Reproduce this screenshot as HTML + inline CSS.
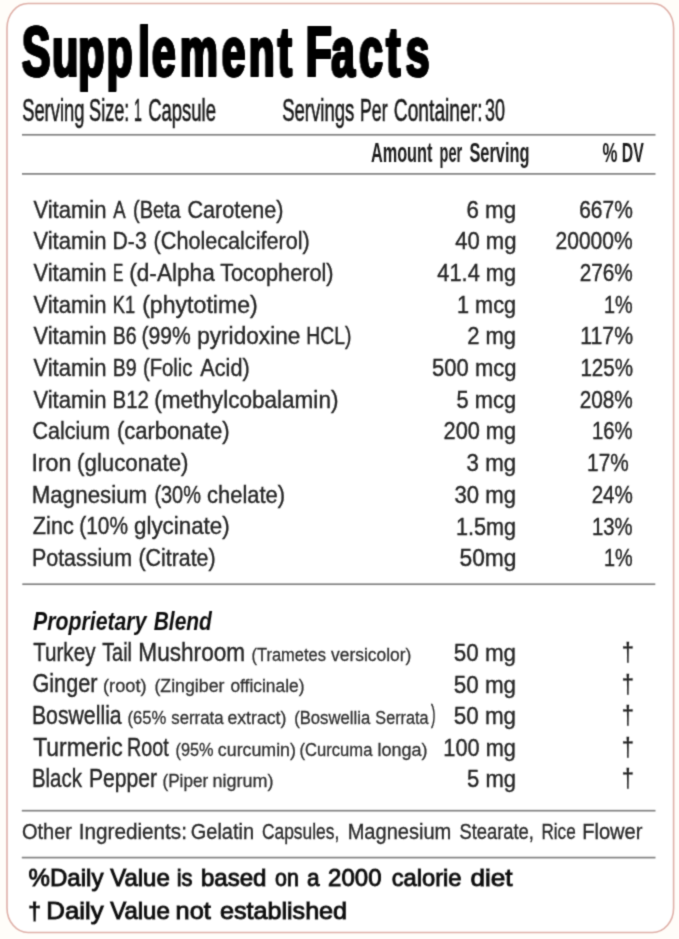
<!DOCTYPE html>
<html lang="en"><head><meta charset="utf-8"><title>Supplement Facts</title>
<style>
html,body{margin:0;padding:0;background:#fffdf9;}
body{width:679px;height:939px;overflow:hidden;}
svg{display:block;}
text{font-family:"Liberation Sans",sans-serif;fill:#262626;stroke:#262626;stroke-width:0.4px;}
.sm{fill:#2e2e2e;stroke:#2e2e2e;stroke-width:0.3px;}
.ot{fill:#2a2a2a;stroke:#2a2a2a;stroke-width:0.35px;}
.title{font-weight:bold;fill:#000;stroke:#000;stroke-width:2.2px;paint-order:stroke;stroke-linejoin:round;filter:drop-shadow(0.5px 0 0 #000) drop-shadow(-0.5px 0 0 #000);}
.hd{fill:#1a1a1a;stroke:#1a1a1a;stroke-width:0.6px;}
.hb{font-weight:bold;fill:#1a1a1a;stroke:none;}
.bi{font-weight:bold;font-style:italic;fill:#111;stroke:none;}
.sb{fill:#111;stroke:#111;stroke-width:0.9px;}
.dg{fill:#222;stroke:#222;stroke-width:0.3px;}
</style></head><body>
<svg width="679" height="939" viewBox="0 0 679 939">
<rect x="0" y="0" width="679" height="939" fill="#fffdf9"/>
<defs><filter id="soft" x="0" y="0" width="679" height="939" filterUnits="userSpaceOnUse"><feConvolveMatrix order="3" kernelMatrix="0.0277 0.1110 0.0277 0.1110 0.4452 0.1110 0.0277 0.1110 0.0277" divisor="1" edgeMode="duplicate" preserveAlpha="false"/></filter></defs>
<rect x="7" y="3.5" width="666.6" height="929" rx="21" ry="24.5" fill="#ffffff"/>
<rect x="7" y="3.5" width="666.6" height="929" rx="21" ry="24.5" fill="none" stroke="#dfb0a8" stroke-width="1.6" filter="url(#soft)"/>
<g filter="url(#soft)">
<rect x="22" y="133.95" width="633.5" height="1.7" fill="#828282"/>
<rect x="22" y="173.05" width="633.5" height="1.7" fill="#828282"/>
<rect x="22.3" y="583.35" width="633.0" height="1.7" fill="#828282"/>
<rect x="21.8" y="809.85" width="633.7" height="1.7" fill="#828282"/>
<rect x="21.8" y="856.75" width="633.7" height="1.7" fill="#828282"/>
<text class="title" transform="scale(0.6054,1)" x="36.79 86.80 129.56 176.55 228.58 251.37 297.71 366.58 411.40 459.14 493.28 505.28 547.65 593.87 638.26 670.60" y="76" font-size="70.5">Supplement Facts</text>
<text><tspan class="hd" x="22.16" y="121.30" font-size="32.2" textLength="62.24" lengthAdjust="spacingAndGlyphs">Serving</tspan> <tspan class="hd" x="89.10" y="121.30" font-size="32.2" textLength="40.25" lengthAdjust="spacingAndGlyphs">Size:</tspan> <tspan class="hd" x="134.12" y="121.30" font-size="32.2" textLength="7.86" lengthAdjust="spacingAndGlyphs">1</tspan> <tspan class="hd" x="148.14" y="121.30" font-size="32.2" textLength="67.85" lengthAdjust="spacingAndGlyphs">Capsule</tspan> <tspan class="hd" x="282.15" y="121.30" font-size="32.2" textLength="72.27" lengthAdjust="spacingAndGlyphs">Servings</tspan> <tspan class="hd" x="360.07" y="121.30" font-size="32.2" textLength="27.45" lengthAdjust="spacingAndGlyphs">Per</tspan> <tspan class="hd" x="393.75" y="121.30" font-size="32.2" textLength="88.75" lengthAdjust="spacingAndGlyphs">Container:</tspan> <tspan class="hd" x="484.92" y="121.30" font-size="32.2" textLength="19.97" lengthAdjust="spacingAndGlyphs">30</tspan></text>
<text><tspan class="hb" x="370.92" y="162.00" font-size="27.5" textLength="61.55" lengthAdjust="spacingAndGlyphs">Amount</tspan> <tspan class="hb" x="439.56" y="162.00" font-size="27.5" textLength="22.51" lengthAdjust="spacingAndGlyphs">per</tspan> <tspan class="hb" x="469.46" y="162.00" font-size="27.5" textLength="60.05" lengthAdjust="spacingAndGlyphs">Serving</tspan> <tspan class="hb" x="602.39" y="162.00" font-size="27.5" textLength="14.90" lengthAdjust="spacingAndGlyphs">%</tspan> <tspan class="hb" x="621.69" y="162.00" font-size="27.5" textLength="22.02" lengthAdjust="spacingAndGlyphs">DV</tspan></text>
<text><tspan x="33.38" y="217.50" font-size="24.6" textLength="73.13" lengthAdjust="spacingAndGlyphs">Vitamin</tspan> <tspan x="113.37" y="217.50" font-size="24.6" textLength="12.39" lengthAdjust="spacingAndGlyphs">A</tspan> <tspan x="132.99" y="217.50" font-size="24.6" textLength="47.74" lengthAdjust="spacingAndGlyphs">(Beta</tspan> <tspan x="187.47" y="217.50" font-size="24.6" textLength="95.98" lengthAdjust="spacingAndGlyphs">Carotene)</tspan> <tspan x="466.41" y="217.70" font-size="23.8" textLength="49.65" lengthAdjust="spacingAndGlyphs">6 mg</tspan> <tspan x="579.18" y="217.70" font-size="23.8" textLength="53.59" lengthAdjust="spacingAndGlyphs">667%</tspan></text>
<text><tspan x="33.38" y="249.18" font-size="24.6" textLength="73.13" lengthAdjust="spacingAndGlyphs">Vitamin</tspan> <tspan x="112.62" y="249.18" font-size="24.6" textLength="34.06" lengthAdjust="spacingAndGlyphs">D-3</tspan> <tspan x="153.62" y="249.18" font-size="24.6" textLength="156.06" lengthAdjust="spacingAndGlyphs">(Cholecalciferol)</tspan> <tspan x="455.14" y="249.38" font-size="23.8" textLength="61.38" lengthAdjust="spacingAndGlyphs">40 mg</tspan> <tspan x="555.61" y="249.38" font-size="23.8" textLength="77.00" lengthAdjust="spacingAndGlyphs">20000%</tspan></text>
<text><tspan x="33.38" y="280.86" font-size="24.6" textLength="73.13" lengthAdjust="spacingAndGlyphs">Vitamin</tspan> <tspan x="112.97" y="280.86" font-size="24.6" textLength="10.31" lengthAdjust="spacingAndGlyphs">E</tspan> <tspan x="129.23" y="280.86" font-size="24.6" textLength="85.55" lengthAdjust="spacingAndGlyphs">(d-Alpha</tspan> <tspan x="220.17" y="280.86" font-size="24.6" textLength="113.43" lengthAdjust="spacingAndGlyphs">Tocopherol)</tspan> <tspan x="437.36" y="281.06" font-size="23.8" textLength="78.72" lengthAdjust="spacingAndGlyphs">41.4 mg</tspan> <tspan x="579.63" y="281.06" font-size="23.8" textLength="53.14" lengthAdjust="spacingAndGlyphs">276%</tspan></text>
<text><tspan x="33.38" y="312.54" font-size="24.6" textLength="73.13" lengthAdjust="spacingAndGlyphs">Vitamin</tspan> <tspan x="112.70" y="312.54" font-size="24.6" textLength="22.40" lengthAdjust="spacingAndGlyphs">K1</tspan> <tspan x="142.18" y="312.54" font-size="24.6" textLength="115.56" lengthAdjust="spacingAndGlyphs">(phytotime)</tspan> <tspan x="456.96" y="312.74" font-size="23.8" textLength="59.13" lengthAdjust="spacingAndGlyphs">1 mcg</tspan> <tspan x="604.07" y="312.74" font-size="23.8" textLength="28.71" lengthAdjust="spacingAndGlyphs">1%</tspan></text>
<text><tspan x="33.38" y="344.22" font-size="24.6" textLength="73.13" lengthAdjust="spacingAndGlyphs">Vitamin</tspan> <tspan x="112.69" y="344.22" font-size="24.6" textLength="23.88" lengthAdjust="spacingAndGlyphs">B6</tspan> <tspan x="141.51" y="344.22" font-size="24.6" textLength="49.22" lengthAdjust="spacingAndGlyphs">(99%</tspan> <tspan x="197.19" y="344.22" font-size="24.6" textLength="103.15" lengthAdjust="spacingAndGlyphs">pyridoxine</tspan> <tspan x="306.33" y="344.22" font-size="24.6" textLength="45.08" lengthAdjust="spacingAndGlyphs">HCL)</tspan> <tspan x="467.15" y="344.42" font-size="23.8" textLength="48.97" lengthAdjust="spacingAndGlyphs">2 mg</tspan> <tspan x="580.34" y="344.42" font-size="23.8" textLength="52.67" lengthAdjust="spacingAndGlyphs">117%</tspan></text>
<text><tspan x="33.38" y="375.90" font-size="24.6" textLength="73.13" lengthAdjust="spacingAndGlyphs">Vitamin</tspan> <tspan x="112.67" y="375.90" font-size="24.6" textLength="23.99" lengthAdjust="spacingAndGlyphs">B9</tspan> <tspan x="142.95" y="375.90" font-size="24.6" textLength="49.53" lengthAdjust="spacingAndGlyphs">(Folic</tspan> <tspan x="200.35" y="375.90" font-size="24.6" textLength="49.29" lengthAdjust="spacingAndGlyphs">Acid)</tspan> <tspan x="432.12" y="376.10" font-size="23.8" textLength="84.34" lengthAdjust="spacingAndGlyphs">500 mcg</tspan> <tspan x="580.41" y="376.10" font-size="23.8" textLength="52.64" lengthAdjust="spacingAndGlyphs">125%</tspan></text>
<text><tspan x="33.38" y="407.58" font-size="24.6" textLength="73.13" lengthAdjust="spacingAndGlyphs">Vitamin</tspan> <tspan x="112.56" y="407.58" font-size="24.6" textLength="36.35" lengthAdjust="spacingAndGlyphs">B12</tspan> <tspan x="154.23" y="407.58" font-size="24.6" textLength="184.21" lengthAdjust="spacingAndGlyphs">(methylcobalamin)</tspan> <tspan x="456.62" y="407.78" font-size="23.8" textLength="59.46" lengthAdjust="spacingAndGlyphs">5 mcg</tspan> <tspan x="579.63" y="407.78" font-size="23.8" textLength="53.14" lengthAdjust="spacingAndGlyphs">208%</tspan></text>
<text><tspan x="32.48" y="439.26" font-size="24.6" textLength="77.56" lengthAdjust="spacingAndGlyphs">Calcium</tspan> <tspan x="116.90" y="439.26" font-size="24.6" textLength="112.70" lengthAdjust="spacingAndGlyphs">(carbonate)</tspan> <tspan x="443.55" y="439.46" font-size="23.8" textLength="72.54" lengthAdjust="spacingAndGlyphs">200 mg</tspan> <tspan x="592.02" y="439.46" font-size="23.8" textLength="40.58" lengthAdjust="spacingAndGlyphs">16%</tspan></text>
<text><tspan x="31.40" y="470.94" font-size="24.6" textLength="40.07" lengthAdjust="spacingAndGlyphs">Iron</tspan> <tspan x="77.11" y="470.94" font-size="24.6" textLength="111.34" lengthAdjust="spacingAndGlyphs">(gluconate)</tspan> <tspan x="466.58" y="471.14" font-size="23.8" textLength="49.51" lengthAdjust="spacingAndGlyphs">3 mg</tspan> <tspan x="587.11" y="471.14" font-size="23.8" textLength="41.56" lengthAdjust="spacingAndGlyphs">17%</tspan></text>
<text><tspan x="31.77" y="502.62" font-size="24.6" textLength="115.43" lengthAdjust="spacingAndGlyphs">Magnesium</tspan> <tspan x="154.39" y="502.62" font-size="24.6" textLength="46.56" lengthAdjust="spacingAndGlyphs">(30%</tspan> <tspan x="207.01" y="502.62" font-size="24.6" textLength="78.08" lengthAdjust="spacingAndGlyphs">chelate)</tspan> <tspan x="454.59" y="502.82" font-size="23.8" textLength="61.43" lengthAdjust="spacingAndGlyphs">30 mg</tspan> <tspan x="591.64" y="502.82" font-size="23.8" textLength="41.20" lengthAdjust="spacingAndGlyphs">24%</tspan></text>
<text><tspan x="32.86" y="534.30" font-size="24.6" textLength="40.88" lengthAdjust="spacingAndGlyphs">Zinc</tspan> <tspan x="79.25" y="534.30" font-size="24.6" textLength="48.70" lengthAdjust="spacingAndGlyphs">(10%</tspan> <tspan x="134.01" y="534.30" font-size="24.6" textLength="95.65" lengthAdjust="spacingAndGlyphs">glycinate)</tspan> <tspan x="455.97" y="534.50" font-size="23.8" textLength="60.15" lengthAdjust="spacingAndGlyphs">1.5mg</tspan> <tspan x="592.02" y="534.50" font-size="23.8" textLength="40.58" lengthAdjust="spacingAndGlyphs">13%</tspan></text>
<text><tspan x="31.92" y="565.98" font-size="24.6" textLength="100.13" lengthAdjust="spacingAndGlyphs">Potassium</tspan> <tspan x="138.50" y="565.98" font-size="24.6" textLength="77.08" lengthAdjust="spacingAndGlyphs">(Citrate)</tspan> <tspan x="459.54" y="566.18" font-size="23.8" textLength="56.98" lengthAdjust="spacingAndGlyphs">50mg</tspan> <tspan x="604.07" y="566.18" font-size="23.8" textLength="28.71" lengthAdjust="spacingAndGlyphs">1%</tspan></text>
<text><tspan class="bi" x="33.02" y="629.50" font-size="25" textLength="113.46" lengthAdjust="spacingAndGlyphs">Proprietary</tspan> <tspan class="bi" x="153.69" y="629.50" font-size="25" textLength="58.18" lengthAdjust="spacingAndGlyphs">Blend</tspan></text>
<text><tspan x="33.19" y="660.80" font-size="25.4" textLength="62.26" lengthAdjust="spacingAndGlyphs">Turkey</tspan> <tspan x="102.22" y="660.80" font-size="25.4" textLength="29.72" lengthAdjust="spacingAndGlyphs">Tail</tspan> <tspan x="138.32" y="660.80" font-size="25.4" textLength="106.80" lengthAdjust="spacingAndGlyphs">Mushroom</tspan> <tspan class="sm" x="251.53" y="660.80" font-size="18.8" textLength="74.36" lengthAdjust="spacingAndGlyphs">(Trametes</tspan> <tspan class="sm" x="330.96" y="660.80" font-size="18.8" textLength="80.46" lengthAdjust="spacingAndGlyphs">versicolor)</tspan> <tspan x="453.81" y="661.00" font-size="24.799999999999997" textLength="62.28" lengthAdjust="spacingAndGlyphs">50 mg</tspan> <tspan class="dg" x="621.80" y="661.00" font-size="25.3" textLength="12.27" lengthAdjust="spacingAndGlyphs">†</tspan></text>
<text><tspan x="32.47" y="692.40" font-size="25.4" textLength="64.97" lengthAdjust="spacingAndGlyphs">Ginger</tspan> <tspan class="sm" x="103.00" y="692.40" font-size="18.8" textLength="43.53" lengthAdjust="spacingAndGlyphs">(root)</tspan> <tspan class="sm" x="154.39" y="692.40" font-size="18.8" textLength="70.05" lengthAdjust="spacingAndGlyphs">(Zingiber</tspan> <tspan class="sm" x="230.44" y="692.40" font-size="18.8" textLength="74.03" lengthAdjust="spacingAndGlyphs">officinale)</tspan> <tspan x="453.81" y="692.60" font-size="24.799999999999997" textLength="62.28" lengthAdjust="spacingAndGlyphs">50 mg</tspan> <tspan class="dg" x="621.80" y="692.60" font-size="25.3" textLength="12.27" lengthAdjust="spacingAndGlyphs">†</tspan></text>
<text><tspan x="31.93" y="724.00" font-size="25.4" textLength="89.75" lengthAdjust="spacingAndGlyphs">Boswellia</tspan> <tspan class="sm" x="127.52" y="724.00" font-size="18.8" textLength="38.80" lengthAdjust="spacingAndGlyphs">(65%</tspan> <tspan class="sm" x="171.37" y="724.00" font-size="18.8" textLength="52.08" lengthAdjust="spacingAndGlyphs">serrata</tspan> <tspan class="sm" x="227.40" y="724.00" font-size="18.8" textLength="59.06" lengthAdjust="spacingAndGlyphs">extract)</tspan> <tspan class="sm" x="294.14" y="724.00" font-size="18.8" textLength="76.09" lengthAdjust="spacingAndGlyphs">(Boswellia</tspan> <tspan class="sm" x="375.33" y="724.00" font-size="18.8" textLength="53.20" lengthAdjust="spacingAndGlyphs">Serrata</tspan><tspan x="431.00" y="722.70" font-size="25.4" textLength="4.51" lengthAdjust="spacingAndGlyphs">)</tspan> <tspan x="453.81" y="724.20" font-size="24.799999999999997" textLength="62.28" lengthAdjust="spacingAndGlyphs">50 mg</tspan> <tspan class="dg" x="621.80" y="724.20" font-size="25.3" textLength="12.27" lengthAdjust="spacingAndGlyphs">†</tspan></text>
<text><tspan x="33.13" y="755.60" font-size="25.4" textLength="89.52" lengthAdjust="spacingAndGlyphs">Turmeric</tspan> <tspan x="127.00" y="755.60" font-size="25.4" textLength="41.73" lengthAdjust="spacingAndGlyphs">Root</tspan> <tspan class="sm" x="175.52" y="755.60" font-size="18.8" textLength="38.04" lengthAdjust="spacingAndGlyphs">(95%</tspan> <tspan class="sm" x="217.86" y="755.60" font-size="18.8" textLength="78.04" lengthAdjust="spacingAndGlyphs">curcumin)</tspan> <tspan class="sm" x="299.53" y="755.60" font-size="18.8" textLength="72.89" lengthAdjust="spacingAndGlyphs">(Curcuma</tspan> <tspan class="sm" x="377.44" y="755.60" font-size="18.8" textLength="50.01" lengthAdjust="spacingAndGlyphs">longa)</tspan> <tspan x="443.36" y="755.80" font-size="24.799999999999997" textLength="72.55" lengthAdjust="spacingAndGlyphs">100 mg</tspan> <tspan class="dg" x="621.80" y="755.80" font-size="25.3" textLength="12.27" lengthAdjust="spacingAndGlyphs">†</tspan></text>
<text><tspan x="31.88" y="787.20" font-size="25.4" textLength="50.04" lengthAdjust="spacingAndGlyphs">Black</tspan> <tspan x="88.95" y="787.20" font-size="25.4" textLength="68.09" lengthAdjust="spacingAndGlyphs">Pepper</tspan> <tspan class="sm" x="162.44" y="787.20" font-size="18.8" textLength="45.77" lengthAdjust="spacingAndGlyphs">(Piper</tspan> <tspan class="sm" x="212.43" y="787.20" font-size="18.8" textLength="61.00" lengthAdjust="spacingAndGlyphs">nigrum)</tspan> <tspan x="467.11" y="787.40" font-size="24.799999999999997" textLength="48.99" lengthAdjust="spacingAndGlyphs">5 mg</tspan> <tspan class="dg" x="621.80" y="787.40" font-size="25.3" textLength="12.27" lengthAdjust="spacingAndGlyphs">†</tspan></text>
<text><tspan class="ot" x="21.99" y="839.30" font-size="22.3" textLength="50.01" lengthAdjust="spacingAndGlyphs">Other</tspan> <tspan class="ot" x="78.68" y="839.30" font-size="22.3" textLength="108.29" lengthAdjust="spacingAndGlyphs">Ingredients:</tspan> <tspan class="ot" x="190.77" y="839.30" font-size="22.3" textLength="63.26" lengthAdjust="spacingAndGlyphs">Gelatin</tspan> <tspan class="ot" x="262.01" y="839.30" font-size="22.3" textLength="77.24" lengthAdjust="spacingAndGlyphs">Capsules,</tspan> <tspan class="ot" x="347.68" y="839.30" font-size="22.3" textLength="103.62" lengthAdjust="spacingAndGlyphs">Magnesium</tspan> <tspan class="ot" x="459.38" y="839.30" font-size="22.3" textLength="74.53" lengthAdjust="spacingAndGlyphs">Stearate,</tspan> <tspan class="ot" x="541.46" y="839.30" font-size="22.3" textLength="34.25" lengthAdjust="spacingAndGlyphs">Rice</tspan> <tspan class="ot" x="582.15" y="839.30" font-size="22.3" textLength="60.30" lengthAdjust="spacingAndGlyphs">Flower</tspan></text>
<text><tspan class="sb" x="28.61" y="886.20" font-size="24.3" textLength="74.84" lengthAdjust="spacingAndGlyphs">%Daily</tspan> <tspan class="sb" x="110.24" y="886.20" font-size="24.3" textLength="59.50" lengthAdjust="spacingAndGlyphs">Value</tspan> <tspan class="sb" x="176.72" y="886.20" font-size="24.3" textLength="15.81" lengthAdjust="spacingAndGlyphs">is</tspan> <tspan class="sb" x="200.93" y="886.20" font-size="24.3" textLength="65.50" lengthAdjust="spacingAndGlyphs">based</tspan> <tspan class="sb" x="275.01" y="886.20" font-size="24.3" textLength="23.76" lengthAdjust="spacingAndGlyphs">on</tspan> <tspan class="sb" x="307.00" y="886.20" font-size="24.3" textLength="12.61" lengthAdjust="spacingAndGlyphs">a</tspan> <tspan class="sb" x="328.11" y="886.20" font-size="24.3" textLength="53.39" lengthAdjust="spacingAndGlyphs">2000</tspan> <tspan class="sb" x="391.63" y="886.20" font-size="24.3" textLength="69.95" lengthAdjust="spacingAndGlyphs">calorie</tspan> <tspan class="sb" x="470.57" y="886.20" font-size="24.3" textLength="42.05" lengthAdjust="spacingAndGlyphs">diet</tspan></text>
<text><tspan class="sb" x="28.31" y="919.30" font-size="24.3" textLength="12.66" lengthAdjust="spacingAndGlyphs">†</tspan> <tspan class="sb" x="46.32" y="919.30" font-size="24.3" textLength="57.23" lengthAdjust="spacingAndGlyphs">Daily</tspan> <tspan class="sb" x="110.24" y="919.30" font-size="24.3" textLength="59.50" lengthAdjust="spacingAndGlyphs">Value</tspan> <tspan class="sb" x="175.56" y="919.30" font-size="24.3" textLength="35.25" lengthAdjust="spacingAndGlyphs">not</tspan> <tspan class="sb" x="219.95" y="919.30" font-size="24.3" textLength="127.12" lengthAdjust="spacingAndGlyphs">established</tspan></text>
</g>
</svg>
</body></html>
